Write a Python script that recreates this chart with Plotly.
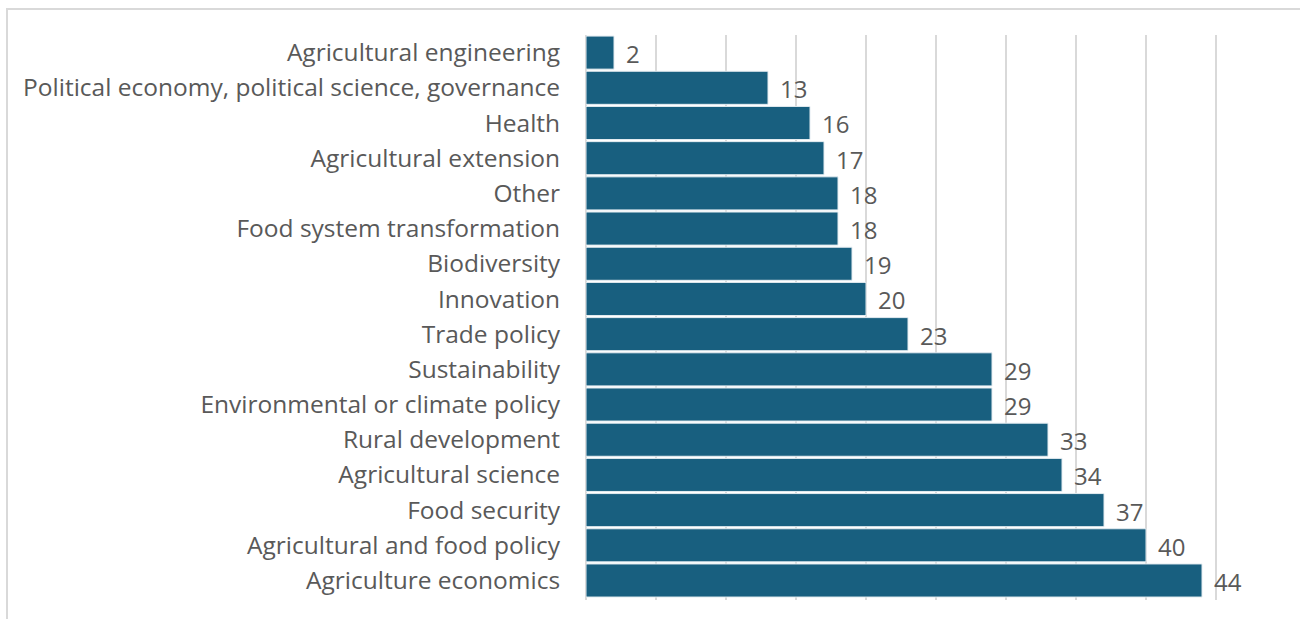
import plotly.graph_objects as go

# Topics, listed top to bottom as drawn
topics = [
    "Agricultural engineering",
    "Political economy, political science, governance",
    "Health",
    "Agricultural extension",
    "Other",
    "Food system transformation",
    "Biodiversity",
    "Innovation",
    "Trade policy",
    "Sustainability",
    "Environmental or climate policy",
    "Rural development",
    "Agricultural science",
    "Food security",
    "Agricultural and food policy",
    "Agriculture economics",
]
counts = [2, 13, 16, 17, 18, 18, 19, 20, 23, 29, 29, 33, 34, 37, 40, 44]

bar_color = "#185F7F"
text_color = "#595959"
font_family = "'Open Sans', sans-serif"

fig = go.Figure(
    go.Bar(
        x=counts,
        y=topics,
        orientation="h",
        marker=dict(color=bar_color, line=dict(color="#E3ECF1", width=1)),
        width=0.94,
        hoverinfo="x+y",
    )
)

# Value labels placed just past the end of each bar
for topic, value in zip(topics, counts):
    fig.add_annotation(
        x=value,
        y=topic,
        text=str(value),
        showarrow=False,
        xanchor="left",
        xshift=10,
        yshift=-1,
        font=dict(family=font_family, size=24, color=text_color),
    )

fig.update_layout(
    width=1300,
    height=619,
    margin=dict(l=586, r=14, t=35, b=19),
    paper_bgcolor="white",
    plot_bgcolor="white",
    showlegend=False,
    bargap=0.06,
    font=dict(family=font_family, color=text_color),
    xaxis=dict(
        range=[0, 50],
        dtick=5,
        showticklabels=False,
        showgrid=True,
        gridcolor="#D9D9D9",
        gridwidth=1.5,
        zeroline=True,
        zerolinecolor="#D9D9D9",
        zerolinewidth=1.5,
        showline=False,
        fixedrange=True,
    ),
    yaxis=dict(
        categoryorder="array",
        categoryarray=topics[::-1],
        tickfont=dict(family=font_family, size=24.5, color=text_color),
        ticks="outside",
        ticklen=20,
        tickcolor="rgba(0,0,0,0)",
        showgrid=False,
        showline=False,
        fixedrange=True,
    ),
    shapes=[
        dict(
            type="rect",
            xref="paper",
            yref="paper",
            x0=-579 / 700,
            x1=1.3,
            y0=-1,
            y1=1 + 26 / 565,
            line=dict(color="#D9D9D9", width=2),
            fillcolor="rgba(0,0,0,0)",
            layer="below",
        )
    ],
)

fig.write_html("out.html")
